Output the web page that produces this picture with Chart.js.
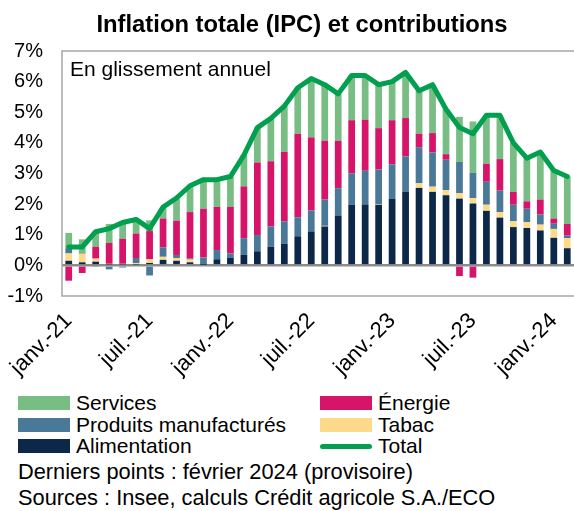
<!DOCTYPE html>
<html lang="fr">
<head>
<meta charset="utf-8">
<script src="https://cdn.jsdelivr.net/npm/chart.js@4.4.1/dist/chart.umd.min.js"></script>
<style>
  html, body { margin: 0; padding: 0; background: #fff; overflow: hidden; }
  body { width: 574px; height: 511px; position: relative; font-family: "Liberation Sans", Arial, sans-serif; color: #000; }
  #wrap { position: absolute; left: 0; top: 0; width: 574px; height: 390px; }
  .txt { position: absolute; font-size: 21px; line-height: 22px; white-space: nowrap; }
  .foot { font-size: 21.8px; }
  .title { position: absolute; left: 0; top: 12px; width: 604px; text-align: center; font-size: 23.8px; line-height: 24px; font-weight: bold; white-space: nowrap; }
  .leg { position: absolute; display: flex; align-items: center; font-size: 21px; line-height: 22px; white-space: nowrap; }
  .sw { width: 52px; height: 14px; margin-right: 6px; }
  .sw.line { height: 5px; border-radius: 3px; }
</style>
</head>
<body>
<div id="wrap"><canvas id="chart" width="574" height="390"></canvas></div>
<div class="title">Inflation totale (IPC) et contributions</div>
<div class="txt" style="left:70px; top:58px;">En glissement annuel</div>
<div id="legend"></div>
<div class="txt foot" style="left:18px; top:461px;">Derniers points : février 2024 (provisoire)</div>
<div class="txt foot" style="left:18px; top:487px;">Sources : Insee, calculs Crédit agricole S.A./ECO</div>
<script>
/* Data */
const months = [
  'janv.-21', 'févr.-21', 'mars-21', 'avr.-21', 'mai-21', 'juin-21', 'juil.-21', 'août-21', 'sept.-21', 'oct.-21', 'nov.-21', 'déc.-21',
  'janv.-22', 'févr.-22', 'mars-22', 'avr.-22', 'mai-22', 'juin-22', 'juil.-22', 'août-22', 'sept.-22', 'oct.-22', 'nov.-22', 'déc.-22',
  'janv.-23', 'févr.-23', 'mars-23', 'avr.-23', 'mai-23', 'juin-23', 'juil.-23', 'août-23', 'sept.-23', 'oct.-23', 'nov.-23', 'déc.-23',
  'janv.-24', 'févr.-24'
];
const alimentation = [0.15, 0.10, 0.12, 0.02, 0.02, 0.02, 0.08, 0.18, 0.15, 0.10, 0.02, 0.20,
  0.24, 0.35, 0.46, 0.61, 0.70, 0.95, 1.11, 1.27, 1.63, 1.98, 1.99, 1.98,
  2.18, 2.41, 2.53, 2.40, 2.29, 2.18, 2.02, 1.78, 1.56, 1.25, 1.22, 1.14,
  0.90, 0.56];
const tabac = [0.24, 0.28, 0.10, 0.03, 0.03, 0.05, 0.12, 0.10, 0.09, 0.09, 0.00, 0.00,
  0.00, 0.00, 0.00, 0.00, 0.00, 0.00, 0.00, 0.02, 0.00, 0.00, 0.00, 0.02,
  0.00, 0.00, 0.15, 0.17, 0.17, 0.18, 0.18, 0.20, 0.18, 0.19, 0.19, 0.19,
  0.29, 0.33];
const produitsManufactures = [0.17, 0.02, -0.05, -0.13, -0.07, 0.17, -0.33, 0.31, 0.10, 0.03, 0.24, 0.30,
  0.15, 0.54, 0.53, 0.66, 0.74, 0.62, 0.68, 0.86, 0.89, 1.03, 1.10, 1.13,
  1.12, 1.15, 1.18, 1.12, 0.99, 1.02, 0.83, 0.75, 0.70, 0.54, 0.44, 0.33,
  0.17, 0.08];
const energie = [-0.50, -0.25, 0.39, 0.68, 0.82, 0.80, 0.92, 0.94, 1.12, 1.52, 1.59, 1.41,
  1.52, 1.69, 2.37, 2.13, 2.27, 2.73, 2.39, 1.92, 1.55, 1.73, 1.67, 1.35,
  1.44, 1.25, 0.44, 0.63, 0.18, -0.35, -0.40, 0.59, 1.03, 0.42, 0.24, 0.49,
  0.17, 0.38];
const services = [0.50, 0.45, 0.50, 0.62, 0.58, 0.45, 0.35, 0.35, 0.72, 0.85, 0.93, 0.88,
  0.98, 1.02, 1.14, 1.40, 1.49, 1.50, 1.92, 1.83, 1.53, 1.46, 1.44, 1.42,
  1.26, 1.49, 1.40, 1.58, 1.47, 1.47, 1.67, 1.58, 1.43, 1.60, 1.41, 1.55,
  1.57, 1.55];
const total = [0.6, 0.6, 1.1, 1.2, 1.4, 1.5, 1.2, 1.9, 2.2, 2.6, 2.8, 2.8,
  2.9, 3.6, 4.5, 4.8, 5.2, 5.8, 6.1, 5.9, 5.6, 6.2, 6.2, 5.9,
  6.0, 6.3, 5.7, 5.9, 5.1, 4.5, 4.3, 4.9, 4.9, 4.0, 3.5, 3.7,
  3.1, 2.9];
const yTicks = [-1, 0, 1, 2, 3, 4, 5, 6, 7];

/* Styles */
const FONT = '"Liberation Sans", Arial, sans-serif';
const colors = {
  services: '#78BD84',
  energie: '#D5146A',
  manuf: '#4A7898',
  tabac: '#FDDA8A',
  alim: '#0C2747',
  total: '#00A04F'
};

/* Plot frame: top, left and bottom edges */
const framePlugin = {
  id: 'frame',
  beforeDatasetsDraw(chart) {
    const { ctx, chartArea: a } = chart;
    ctx.save();
    ctx.strokeStyle = '#A6A6A6';
    ctx.lineWidth = 1.5;
    ctx.beginPath();
    ctx.moveTo(a.right + 2, a.top);
    ctx.lineTo(a.left, a.top);
    ctx.lineTo(a.left, a.bottom);
    ctx.lineTo(a.right + 2, a.bottom);
    ctx.stroke();
    ctx.restore();
  }
};

const bar = (label, data, color) => ({
  label, data, backgroundColor: color, stack: 'contrib', order: 1,
  categoryPercentage: 1, barPercentage: 0.5
});

const chart = new Chart(document.getElementById('chart'), {
  type: 'bar',
  data: {
    labels: months,
    datasets: [
      bar('Alimentation', alimentation, colors.alim),
      bar('Tabac', tabac, colors.tabac),
      bar('Produits manufacturés', produitsManufactures, colors.manuf),
      bar('Énergie', energie, colors.energie),
      bar('Services', services, colors.services),
      {
        label: 'Total', type: 'line', data: total, stack: 'total', order: 0,
        borderColor: colors.total, borderWidth: 5, pointRadius: 0, tension: 0,
        borderJoinStyle: 'round', borderCapStyle: 'round'
      }
    ]
  },
  options: {
    responsive: false,
    animation: false,
    layout: { padding: { left: 0, right: 0, top: 51, bottom: 0 } },
    plugins: {
      legend: { display: false },
      tooltip: { enabled: false },
      title: { display: false }
    },
    scales: {
      x: {
        stacked: true,
        grid: { display: false, drawTicks: false },
        border: { display: false },
        ticks: {
          autoSkip: false, maxRotation: 45, minRotation: 45, padding: 12,
          color: '#000', font: { family: FONT, size: 22 },
          callback: (v, i) => (i % 6 === 0 ? months[i] : '')
        },
        afterFit: s => { s.height = 94; s.paddingLeft = 0; s.paddingRight = 0; }
      },
      y: {
        stacked: true,
        min: yTicks[0], max: yTicks[yTicks.length - 1],
        afterBuildTicks: s => { s.ticks = yTicks.map(v => ({ value: v })); },
        grid: {
          drawTicks: false,
          color: c => (c.tick && c.tick.value === 0 ? '#8C8C8C' : 'rgba(0,0,0,0)'),
          lineWidth: 2.5
        },
        border: { display: false },
        ticks: {
          padding: 19, color: '#000', font: { family: FONT, size: 20 },
          callback: v => v + '%'
        },
        afterFit: s => { s.width = 62; }
      }
    }
  },
  plugins: [framePlugin]
});

/* HTML legend, two columns like the original */
const legendItems = [
  ['Services', colors.services, false, 18, 392],
  ['Énergie', colors.energie, false, 320, 392],
  ['Produits manufacturés', colors.manuf, false, 18, 414],
  ['Tabac', colors.tabac, false, 320, 414],
  ['Alimentation', colors.alim, false, 18, 435],
  ['Total', colors.total, true, 320, 435]
];
const legend = document.getElementById('legend');
legendItems.forEach(([name, color, isLine, x, y]) => {
  const item = document.createElement('div');
  item.className = 'leg';
  item.style.left = x + 'px';
  item.style.top = y + 'px';
  const sw = document.createElement('span');
  sw.className = isLine ? 'sw line' : 'sw';
  sw.style.background = color;
  item.appendChild(sw);
  item.appendChild(document.createTextNode(name));
  legend.appendChild(item);
});
</script>
</body>
</html>
